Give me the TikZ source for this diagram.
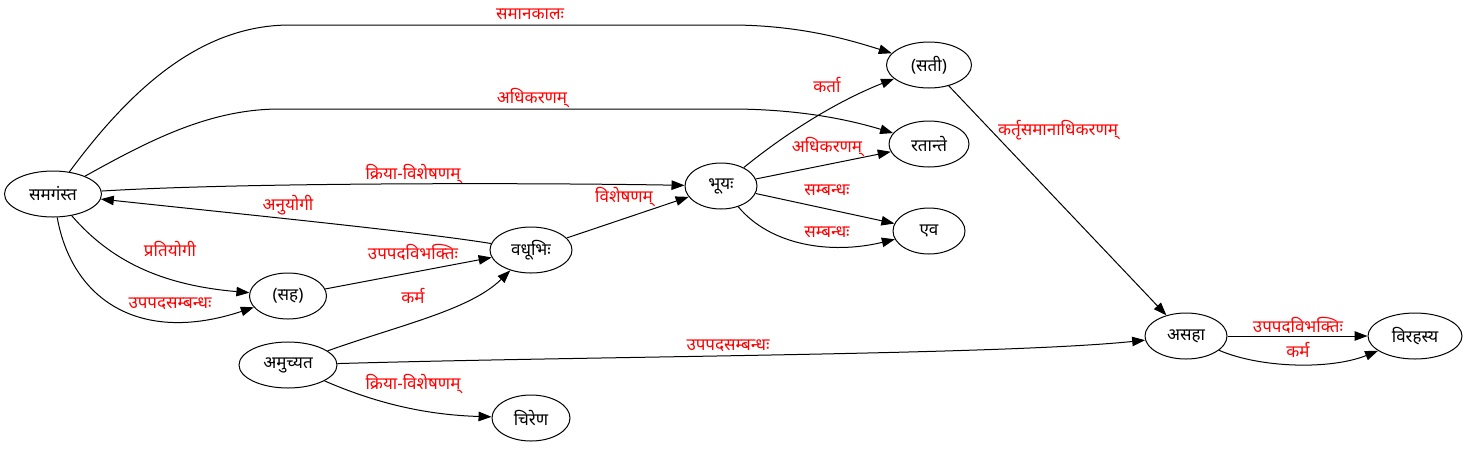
\documentclass[tikz,border=0pt]{standalone}
\usepackage{fontspec}
\newfontfamily\deva[Script=Devanagari]{Noto Sans}
\usetikzlibrary{arrows.meta,shapes.geometric}
\tikzset{
  wnode/.style={draw, line width=1pt, ellipse, inner sep=0pt, minimum height=46pt, font=\deva\fontsize{17}{19}\selectfont},
  edge/.style={draw, line width=1pt, -{Triangle[length=13pt,width=9.5pt]}},
  elabel/.style={text=red, font=\deva\fontsize{17}{19}\selectfont, inner sep=0pt}
}
\begin{document}
\begin{tikzpicture}[x=1pt,y=-1pt]
\useasboundingbox (0,0) rectangle (1467,448);
% nodes
\node[wnode, minimum width=97pt] (sam) at (53,194) {समगंस्त};
\node[wnode, minimum width=77pt] (sah) at (288,296) {(सह)};
\node[wnode, minimum width=82pt] (vadhu) at (531,250) {वधूभिः};
\node[wnode, minimum width=98pt] (amu) at (288,365) {अमुच्यत};
\node[wnode, minimum width=78pt] (chir) at (531,418) {चिरेण};
\node[wnode, minimum width=72pt] (bhu) at (721,186) {भूयः};
\node[wnode, minimum width=85pt] (sati) at (929,65) {(सती)};
\node[wnode, minimum width=80pt] (rat) at (929,144) {रतान्ते};
\node[wnode, minimum width=72pt] (eva) at (929,231) {एव};
\node[wnode, minimum width=82pt] (asaha) at (1186,336) {असहा};
\node[wnode, minimum width=94pt] (viraha) at (1415,336) {विरहस्य};
% edges
\draw[edge] (sam) .. controls (130,90) and (200,25) .. (290,25) -- (730,25) .. controls (800,25) and (850,40) .. (sati);
\draw[edge] (sam) .. controls (150,140) and (210,109) .. (280,109) -- (730,109) .. controls (800,109) and (850,120) .. (rat);
\draw[edge] (sam) .. controls (250,182) and (550,183) .. (bhu);
\draw[edge] (vadhu) .. controls (420,232) and (250,215) .. (sam);
\draw[edge] (sam) .. controls (110,260) and (160,285) .. (sah);
\draw[edge] (sam) .. controls (72,300) and (140,345) .. (sah);
\draw[edge] (sah) -- (vadhu);
\draw[edge] (amu) .. controls (400,325) and (470,310) .. (vadhu);
\draw[edge] (amu) .. controls (380,405) and (430,415) .. (chir);
\draw[edge] (amu) .. controls (600,356) and (1000,355) .. (asaha);
\draw[edge] (vadhu) -- (bhu);
\draw[edge] (bhu) .. controls (790,130) and (840,100) .. (sati);
\draw[edge] (bhu) -- (rat);
\draw[edge] (bhu) -- (eva);
\draw[edge] (bhu) .. controls (770,245) and (830,255) .. (eva);
\draw[edge] (sati) -- (asaha);
\draw[edge] (asaha) -- (viraha);
\draw[edge] (asaha) .. controls (1260,368) and (1330,370) .. (viraha);
% labels
\node[elabel] (l1) at (530,14) {समानकालः};
\node[elabel] (l2) at (532,98) {अधिकरणम्};
\node[elabel] (l3) at (413,174) {क्रिया-विशेषणम्};
\node[elabel] (l4) at (288,205) {अनुयोगी};
\node[elabel] (l5) at (170,249) {प्रतियोगी};
\node[elabel] (l6) at (170,304) {उपपदसम्बन्धः};
\node[elabel] (l7) at (413,252) {उपपदविभक्तिः};
\node[elabel] (l8) at (413,296) {कर्म};
\node[elabel] (l9) at (413,384) {क्रिया-विशेषणम्};
\node[elabel] (l10) at (728,346) {उपपदसम्बन्धः};
\node[elabel] (l11) at (624,197) {विशेषणम्};
\node[elabel] (l12) at (827,85) {कर्ता};
\node[elabel] (l13) at (827,147) {अधिकरणम्};
\node[elabel] (l14) at (827,190) {सम्बन्धः};
\node[elabel] (l15) at (827,232) {सम्बन्धः};
\node[elabel] (l16) at (1058,130) {कर्तृसमानाधिकरणम्};
\node[elabel] (l17) at (1298,325) {उपपदविभक्तिः};
\node[elabel] (l18) at (1298,350) {कर्म};
\end{tikzpicture}
\end{document}
